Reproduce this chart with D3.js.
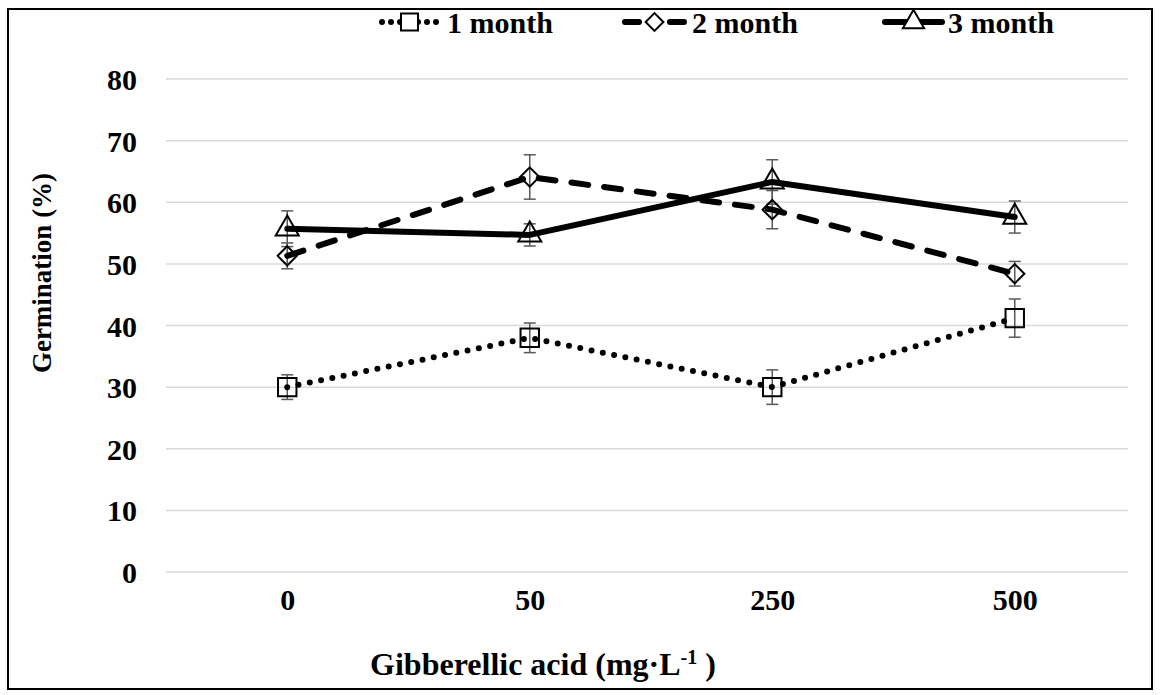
<!DOCTYPE html>
<html>
<head>
<meta charset="utf-8">
<script src="https://cdn.jsdelivr.net/npm/d3@7"></script>
<style>
  body { margin: 0; background: #fff; }
  text { font-family: "Liberation Serif", "Times New Roman", serif; font-weight: bold; fill: #000; }
</style>
</head>
<body>
<div id="chart"></div>
<script>
// data
const doses = ["0", "50", "250", "500"];
const seriesNames = ["1 month", "2 month", "3 month"];
const month1 = [30.0, 38.0, 30.0, 41.2];
const month2 = [51.3, 64.1, 58.8, 48.4];
const month3 = [55.7, 54.7, 63.3, 57.6];
const err1 = [2.0, 2.4, 2.8, 3.1];
const err2 = [2.1, 3.6, 3.1, 2.0];
const err3 = [2.9, 1.8, 3.6, 2.6];
const yTicks = [0, 10, 20, 30, 40, 50, 60, 70, 80];

const width = 1160, height = 695;
const plot = { left: 166, right: 1136, top: 79, bottom: 572 };

const svg = d3.select("#chart").append("svg")
  .attr("width", width)
  .attr("height", height);

// outer frame
svg.append("rect")
  .attr("x", 8).attr("y", 9)
  .attr("width", 1144).attr("height", 680)
  .attr("fill", "none")
  .attr("stroke", "#000")
  .attr("stroke-width", 2);

const x = d3.scalePoint().domain(doses).range([plot.left, plot.right]).padding(0.5);
const y = d3.scaleLinear().domain([0, 80]).range([plot.bottom, plot.top]);

// square diamond (rotated square), like the office marker
const diamond = {
  draw(ctx, size) {
    const r = Math.sqrt(size) / 2 * 1.15;
    ctx.moveTo(0, -r); ctx.lineTo(r, 0); ctx.lineTo(0, r); ctx.lineTo(-r, 0); ctx.closePath();
  }
};

// gridlines
svg.append("g")
  .selectAll("line")
  .data(yTicks)
  .join("line")
  .attr("x1", plot.left).attr("x2", 1128)
  .attr("y1", d => y(d)).attr("y2", d => y(d))
  .attr("stroke", "#d9d9d9")
  .attr("stroke-width", 1.5);

// y axis labels
const yAxis = svg.append("g")
  .attr("transform", `translate(${plot.left},0)`)
  .call(d3.axisLeft(y).tickValues(yTicks).tickSize(0).tickPadding(29));
yAxis.select(".domain").remove();
yAxis.selectAll("text").style("font-size", "30px").attr("dy", "0.35em");

// x axis labels
const xAxis = svg.append("g")
  .attr("transform", `translate(0,${plot.bottom})`)
  .call(d3.axisBottom(x).tickSize(0).tickPadding(27));
xAxis.select(".domain").remove();
xAxis.selectAll("text").style("font-size", "30px").attr("dy", "0.35em");

// axis titles
svg.append("text")
  .attr("transform", "translate(42,273) rotate(-90)")
  .attr("text-anchor", "middle")
  .attr("dy", "0.35em")
  .style("font-size", "27px")
  .text("Germination (%)");

const xt = svg.append("text")
  .attr("x", 543).attr("y", 664)
  .attr("text-anchor", "middle")
  .attr("dy", "0.35em")
  .style("font-size", "32px");
xt.append("tspan").text("Gibberellic acid (mg·L");
xt.append("tspan").attr("dy", "-11").style("font-size", "20px").text("-1");
xt.append("tspan").attr("dy", "11").text(" )");

const series = [
  { name: seriesNames[0], values: month1, err: err1, dash: "0 11.5", symbol: d3.symbolSquare, size: 340 },
  { name: seriesNames[1], values: month2, err: err2, dash: "17 16", symbol: diamond, size: 280 },
  { name: seriesNames[2], values: month3, err: err3, dash: null, symbol: d3.symbolTriangle, size: 230 }
];

const line = d3.line()
  .x((d, i) => x(doses[i]))
  .y(d => y(d));

// error bars
series.forEach(s => {
  const g = svg.append("g").attr("stroke", "#595959").attr("stroke-width", 1.5);
  s.values.forEach((v, i) => {
    const cx = x(doses[i]);
    const y0 = y(v - s.err[i]), y1 = y(v + s.err[i]);
    g.append("line").attr("x1", cx).attr("x2", cx).attr("y1", y0).attr("y2", y1);
    g.append("line").attr("x1", cx - 6).attr("x2", cx + 6).attr("y1", y0).attr("y2", y0);
    g.append("line").attr("x1", cx - 6).attr("x2", cx + 6).attr("y1", y1).attr("y2", y1);
  });
});

// lines and markers
series.forEach(s => {
  svg.append("path")
    .datum(s.values)
    .attr("d", line)
    .attr("fill", "none")
    .attr("stroke", "#000")
    .attr("stroke-width", 6)
    .attr("stroke-linecap", "round")
    .attr("stroke-linejoin", "round")
    .attr("stroke-dasharray", s.dash);

  svg.append("g")
    .selectAll("path")
    .data(s.values)
    .join("path")
    .attr("transform", (d, i) => `translate(${x(doses[i])},${y(d)})`)
    .attr("d", d3.symbol().type(s.symbol).size(s.size))
    .attr("fill", "none")
    .attr("stroke", "#000")
    .attr("stroke-width", 2);
});

// legend
const legendLine = [[382, 437], [625, 684], [885, 942]];
const legendText = [447, 692, 948];
const legend = svg.append("g");
series.forEach((s, i) => {
  const [x0, x1] = legendLine[i], ly = 22;
  legend.append("line")
    .attr("x1", x0).attr("x2", x1)
    .attr("y1", ly).attr("y2", ly)
    .attr("stroke", "#000")
    .attr("stroke-width", 6)
    .attr("stroke-linecap", "round")
    .attr("stroke-dasharray", s.dash ? (i === 0 ? "0 9" : "14 31") : null);
  legend.append("path")
    .attr("transform", `translate(${(x0 + x1) / 2},${ly})`)
    .attr("d", d3.symbol().type(s.symbol).size(s.size * 0.85))
    .attr("fill", "#fff")
    .attr("stroke", "#000")
    .attr("stroke-width", 2);
  legend.append("text")
    .attr("x", legendText[i]).attr("y", ly)
    .attr("dy", "0.35em")
    .style("font-size", "30px")
    .text(s.name);
});
</script>
</body>
</html>
